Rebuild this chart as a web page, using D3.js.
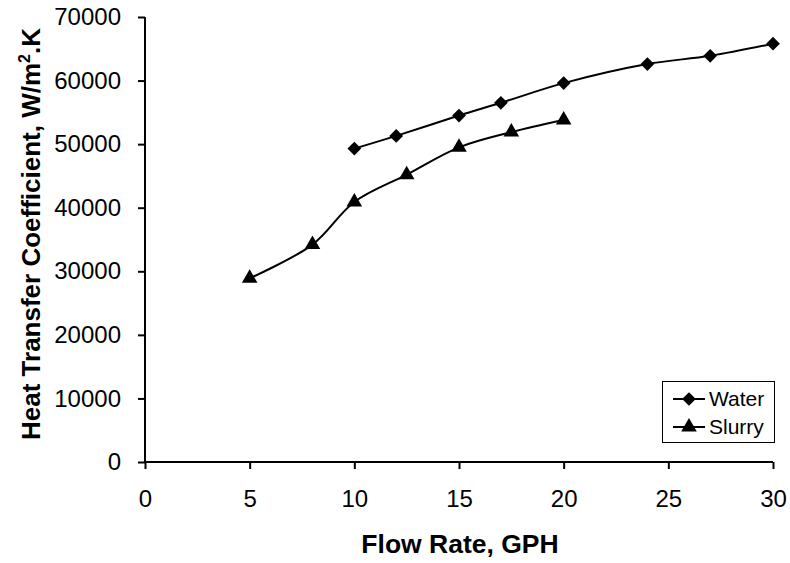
<!DOCTYPE html>
<html>
<head>
<meta charset="utf-8">
<script src="https://cdn.jsdelivr.net/npm/d3@7"></script>
<style>
  html, body { margin: 0; padding: 0; background: #fff; }
  text { font-family: "Liberation Sans", Arial, sans-serif; fill: #000; }
</style>
</head>
<body>
<svg id="chart" width="790" height="563"></svg>
<script>
const waterX = [10, 12, 15, 17, 20, 24, 27, 30];
const waterY = [49300, 51300, 54500, 56500, 59600, 62600, 63900, 65800];
const slurryX = [5, 8, 10, 12.5, 15, 17.5, 20];
const slurryY = [28900, 34200, 40900, 45200, 49500, 51900, 53800];
const xTicks = [0, 5, 10, 15, 20, 25, 30];
const yTicks = [0, 10000, 20000, 30000, 40000, 50000, 60000, 70000];
const seriesNames = ["Water", "Slurry"];

const svg = d3.select("#chart");
const pL = 145, pR = 773, pT = 17, pB = 462;
const x = d3.scaleLinear().domain([0, 30]).range([pL, pR]);
const y = d3.scaleLinear().domain([0, 70000]).range([pB, pT]);

// axes
const xAxis = svg.append("g").attr("transform", `translate(0,${pB})`)
  .call(d3.axisBottom(x).tickValues(xTicks).tickSize(7).tickPadding(21).tickFormat(d3.format("d")));
const yAxis = svg.append("g").attr("transform", `translate(${pL},0)`)
  .call(d3.axisLeft(y).tickValues(yTicks).tickSize(7).tickPadding(17).tickFormat(d3.format("d")));
[xAxis, yAxis].forEach(g => {
  g.select(".domain").attr("stroke", "#000").attr("stroke-width", 2);
  g.selectAll(".tick line").attr("stroke", "#000").attr("stroke-width", 2);
  g.selectAll(".tick text").attr("font-size", 24).attr("font-family", "'Liberation Sans', Arial, sans-serif").attr("fill", "#000");
});
xAxis.select(".domain").attr("d", `M${pL},0H${pR}`);
yAxis.select(".domain").attr("d", `M0,${pB}V${pT}`);

// titles
svg.append("text").attr("x", (pL + pR) / 2 + 1).attr("y", 553)
  .attr("text-anchor", "middle").attr("font-size", 26.5).attr("font-weight", "bold")
  .text("Flow Rate, GPH");
const yt = svg.append("text").attr("transform", `translate(40,234) rotate(-90)`)
  .attr("text-anchor", "middle").attr("font-size", 26).attr("font-weight", "bold");
yt.append("tspan").text("Heat Transfer Coefficient, W/m");
yt.append("tspan").attr("font-size", 16).attr("dy", -10).text("2");
yt.append("tspan").attr("dy", 10).text(".K");

const line = d3.line().x(d => x(d[0])).y(d => y(d[1])).curve(d3.curveCatmullRom.alpha(0.5));
const water = waterX.map((v, i) => [v, waterY[i]]);
const slurry = slurryX.map((v, i) => [v, slurryY[i]]);

svg.append("path").attr("d", line(water)).attr("fill", "none").attr("stroke", "#000").attr("stroke-width", 2);
svg.append("path").attr("d", line(slurry)).attr("fill", "none").attr("stroke", "#000").attr("stroke-width", 2);

const diamond = d3.symbol().type(d3.symbolDiamond2).size(120);
const triangle = d3.symbol().type(d3.symbolTriangle).size(105);

svg.append("g").selectAll("path").data(water).join("path")
  .attr("transform", d => `translate(${x(d[0])},${y(d[1])})`)
  .attr("d", diamond).attr("fill", "#000");
svg.append("g").selectAll("path").data(slurry).join("path")
  .attr("transform", d => `translate(${x(d[0])},${y(d[1])})`)
  .attr("d", triangle).attr("fill", "#000");

// legend
const lg = svg.append("g");
lg.append("rect").attr("x", 662.5).attr("y", 381.5).attr("width", 112).attr("height", 61)
  .attr("fill", "#fff").attr("stroke", "#000").attr("stroke-width", 1);
const syms = [diamond, triangle];
seriesNames.forEach((name, i) => {
  const cy = 399 + i * 28;
  lg.append("line").attr("x1", 673).attr("x2", 705).attr("y1", cy).attr("y2", cy)
    .attr("stroke", "#000").attr("stroke-width", 2);
  lg.append("path").attr("transform", `translate(689,${cy})`).attr("d", syms[i]).attr("fill", "#000");
  lg.append("text").attr("x", 709).attr("y", cy + 7).attr("font-size", 21).text(name);
});
</script>
</body>
</html>
